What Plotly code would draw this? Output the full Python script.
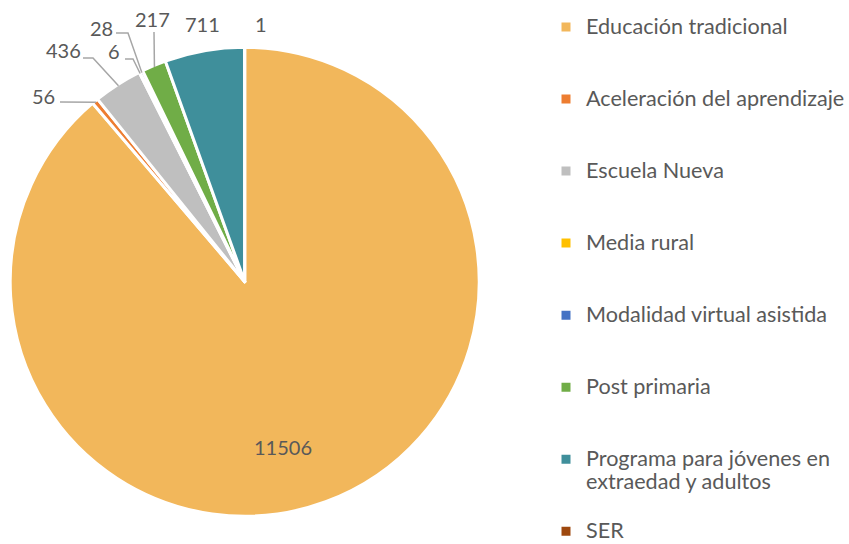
import math
import plotly.graph_objects as go

# ---- data ----
categories = ["Educación tradicional", "Aceleración del aprendizaje", "Escuela Nueva",
              "Media rural", "Modalidad virtual asistida", "Post primaria",
              "Programa para jóvenes en extraedad y adultos", "SER"]
values = [11506, 56, 436, 6, 28, 217, 711, 1]

# ---- style ----
colors = ["#F2B75B", "#ED7D31", "#BFBFBF", "#FFC000", "#4472C4", "#70AD47", "#3F8F9B", "#9E480E"]
W, H = 849, 544
CX, CY, R = 244.7, 281.7, 233.0
LW = 3
FONT = "Lato"
TXT = "#595959"
LEG_F = 17.7

# legend text (wrapped/padded to three lines per entry, last entry unpadded)
legend_wrap = {6: "Programa para jóvenes en<br>extraedad y adultos"}
leg_labels = []
for i, c in enumerate(categories):
    t = legend_wrap.get(i, c)
    lines = t.split("<br>")
    body = "<br>".join('<span style="font-size:21.6px">%s</span>' % l for l in lines)
    pad = 0 if i == len(categories) - 1 else 3 - len(lines)
    leg_labels.append(body + "<br> " * pad)

def px(x, y):
    return x / W, 1 - y / H

Rd = R + LW / 2
fig = go.Figure(go.Pie(
    labels=leg_labels, values=values, sort=False, direction="clockwise", rotation=0,
    marker=dict(colors=colors, line=dict(color="white", width=LW)),
    textinfo="none", hoverinfo="label+value",
    domain=dict(x=[(CX - Rd) / W, (CX + Rd) / W], y=[1 - (CY + Rd) / H, 1 - (CY - Rd) / H]),
))

# slice mid angles (clockwise from 12 o'clock)
total = sum(values)
mids = []
acc = 0
for v in values:
    mids.append((acc + v / 2) / total * 2 * math.pi)
    acc += v
rim = [(CX + R * math.sin(a), CY - R * math.cos(a)) for a in mids]

# label placement (pixel centers) and leader elbows
label_pos = {0: (282.5, 446.5), 1: (43.5, 96), 2: (63, 50), 3: (114.5, 51),
             4: (101.5, 28), 5: (152, 19), 6: (202.5, 24), 7: (261, 24)}
leaders = {1: [(60, 102)], 2: [(83, 58), (93, 58)], 3: [(125, 59), (133, 59)],
           4: [(116, 33), (128, 33)], 5: [(154, 32)]}

annotations = []
for i, v in enumerate(values):
    x, y = px(*label_pos[i])
    annotations.append(dict(x=x, y=y, xref="paper", yref="paper", text=str(v),
                            showarrow=False, xanchor="center", yanchor="middle",
                            font=dict(family=FONT, size=20, color=TXT)))
shapes = []
for i, pts in leaders.items():
    allp = pts + [rim[i]]
    path = "M " + " L ".join("%f %f" % px(a, b) for a, b in allp)
    shapes.append(dict(type="path", path=path, xref="paper", yref="paper",
                       line=dict(color="#A6A6A6", width=1.5)))

fig.update_layout(
    width=W, height=H, margin=dict(l=0, r=0, t=0, b=0, autoexpand=False),
    paper_bgcolor="white", plot_bgcolor="white",
    showlegend=True,
    legend=dict(x=546 / W, xanchor="left", y=1 - 9 / H, yanchor="top",
                valign="top", font=dict(family=FONT, size=LEG_F, color=TXT),
                bgcolor="rgba(0,0,0,0)", traceorder="normal"),
    annotations=annotations, shapes=shapes,
)
fig.write_html("out.html", config={"displayModeBar": False},
               post_script="document.body.style.margin='0';")
